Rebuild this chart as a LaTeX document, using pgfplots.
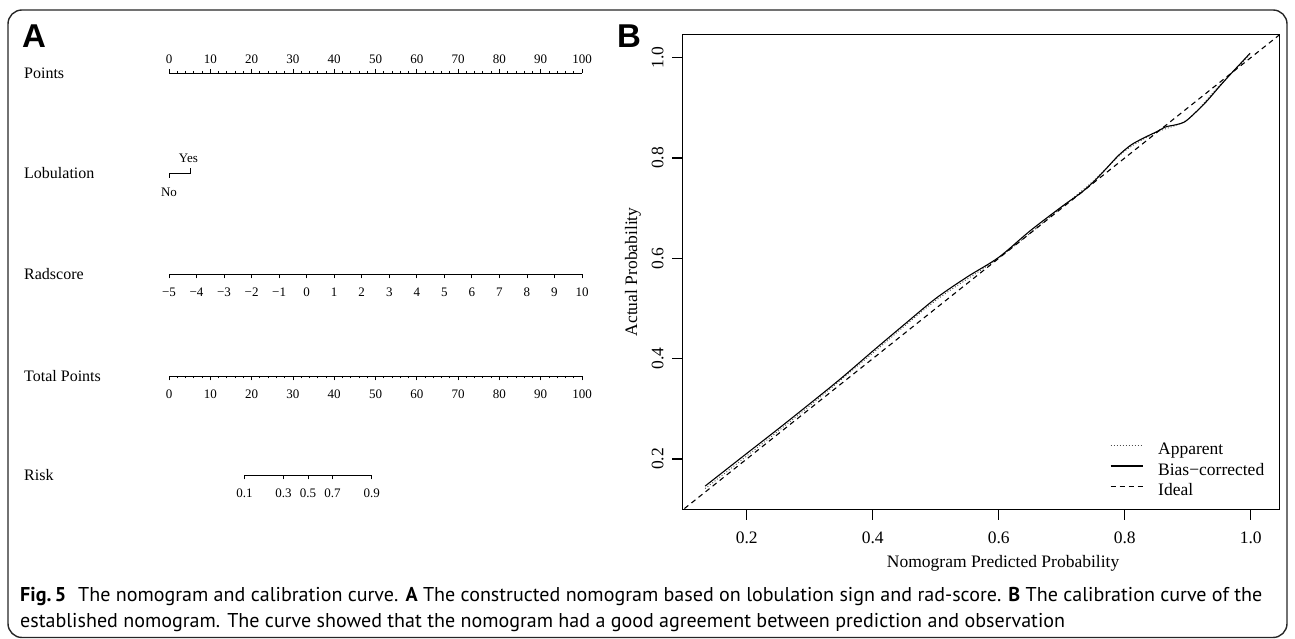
\documentclass[border=0pt]{standalone}
\usepackage{fontspec}
\setmainfont{Liberation Serif}
\newfontfamily\headfont{Liberation Sans}
\newfontfamily\capfont{PT Sans}
\usepackage{graphicx}
\usepackage{pgfplots}
\pgfplotsset{compat=1.18}

\newsavebox\capone
\newsavebox\captwo
\newlength\capw

\pgfplotsset{
  nomorow/.style={
    scale only axis, width=413pt, height=1pt, ymin=0, ymax=1,
    axis y line=none, ytick=\empty, clip=false,
    xmin=0, xmax=100,
    tick align=outside, major tick length=4.5pt, minor tick length=2.3pt,
    every tick/.style={black, line width=0.8pt},
    axis line style={black, line width=0.9pt},
    xticklabel style={font=\fontsize{13}{14}\selectfont, inner sep=0pt},
    /pgf/number format/assume math mode=true,
  },
}

\begin{document}
\sbox\capone{\capfont\fontsize{20}{24}\selectfont\textbf{Fig.\,5}\hspace{0.6em}The nomogram and calibration curve. \textbf{A} The constructed nomogram based on lobulation sign and rad-score. \textbf{B} The calibration curve of the}%
\sbox\captwo{\capfont\fontsize{20}{24}\selectfont established nomogram. The curve showed that the nomogram had a good agreement between prediction and observation}%
\setlength\capw{\wd\capone}%
\pgfmathsetmacro\capsx{1242pt/\capw}%
\begin{tikzpicture}[x=1pt,y=1pt]
\path[use as bounding box] (0,0) rectangle (1295,639);
\draw[line width=1.4pt, rounded corners=14pt, black!85] (8,1.5) rectangle (1287,629);

% panel letters
\node[anchor=north west, inner sep=0pt, font=\headfont\bfseries\fontsize{33}{35}\selectfont] at (22,614) {A};
\node[anchor=north west, inner sep=0pt, font=\headfont\bfseries\fontsize{33}{35}\selectfont] at (617,614) {B};

% row labels
\begin{scope}[every node/.style={anchor=west, inner sep=0pt, font=\fontsize{16}{19}\selectfont}]
\node at (24,565.7) {Points};
\node at (24,466) {Lobulation};
\node at (24,365) {Radscore};
\node at (24,263) {Total Points};
\node at (24,164) {Risk};
\end{scope}

% Points
\begin{axis}[nomorow, at={(169pt,565.7pt)}, anchor=north west,
  axis x line*=top, xtick={0,10,...,100}, minor x tick num=4,
  xticklabel style={anchor=center, yshift=10pt}]
\end{axis}

% Lobulation
\begin{axis}[scale only axis, width=413pt, height=20pt, hide axis, clip=false,
  xmin=0, xmax=100, ymin=-10, ymax=10, at={(169pt,456pt)}, anchor=south west]
\addplot[black, line width=0.9pt] coordinates {(0,-5) (0,0) (5.3,0) (5.3,4.5)};
\node[font=\fontsize{13}{14}\selectfont] at (axis cs:4.7,15) {Yes};
\node[font=\fontsize{13}{14}\selectfont] at (axis cs:0,-19) {No};
\end{axis}

% Radscore
\begin{axis}[nomorow, at={(169pt,365pt)}, anchor=south west,
  axis x line*=bottom, xmin=-5, xmax=10, xtick={-5,-4,...,10},
  xticklabels={−5,−4,−3,−2,−1,0,1,2,3,4,5,6,7,8,9,10},
  xticklabel style={anchor=center, yshift=-14pt}]
\end{axis}

% Total points
\begin{axis}[nomorow, at={(169pt,263pt)}, anchor=south west,
  axis x line*=bottom, xtick={0,10,...,100}, minor x tick num=4,
  xticklabel style={anchor=center, yshift=-14pt}]
\end{axis}

% Risk
\begin{axis}[nomorow, width=127.2pt, at={(244.6pt,164pt)}, anchor=south west,
  axis x line*=bottom, xmin=18.3, xmax=49.1,
  xtick={18.3,27.7,33.66,39.6,49.1}, xticklabels={0.1,0.3,0.5,0.7,0.9},
  xticklabel style={anchor=center, yshift=-14pt}]
\end{axis}

% Panel B
\begin{axis}[
  scale only axis, width=596.6pt, height=474.8pt,
  at={(682.7pt,129.7pt)}, anchor=south west,
  xmin=0.0984, xmax=1.0454, ymin=0.0997, ymax=1.0463,
  axis line style={black, line width=1.1pt},
  tick align=outside, major tick length=10.5pt, tick pos=left,
  every tick/.style={black, line width=1.1pt},
  xtick={0.2,0.4,0.6,0.8,1.0}, xticklabels={0.2,0.4,0.6,0.8,1.0},
  ytick={0.2,0.4,0.6,0.8,1.0}, yticklabels={0.2,0.4,0.6,0.8,1.0},
  ticklabel style={font=\fontsize{17.5}{20}\selectfont},
  xticklabel shift=9pt, yticklabel shift=5pt,
  yticklabel style={rotate=90, anchor=south},
  xlabel={Nomogram Predicted Probability}, ylabel={Actual Probability},
  every axis x label/.style={at={(rel axis cs:0.537,-0.1131)}, anchor=center, font=\fontsize{17.5}{20}\selectfont},
  every axis y label/.style={at={(rel axis cs:-0.0833,0.5)}, anchor=center, rotate=90, font=\fontsize{17.5}{20}\selectfont},
  legend cell align=left,
  legend style={at={(rel axis cs:0.716,0.1422)}, anchor=north west, draw=none, fill=none,
    inner sep=0pt, font=\fontsize{17.5}{20}\selectfont, row sep=3.5pt,
    nodes={inner sep=0pt, text height=13pt, text depth=4pt}},
  legend image code/.code={\draw[#1] (0pt,5pt) -- (32pt,5pt); \path (47pt,0pt);},
]
\addplot[black!70, line width=0.9pt, dash pattern=on 1pt off 2pt, smooth] table {
x y
0.134 0.141
0.2 0.206
0.3 0.306
0.4 0.411
0.5 0.516
0.6 0.601
0.7 0.702
0.75 0.754
0.8 0.814
0.85 0.851
0.9 0.877
0.95 0.944
0.999 1.006
};
\addlegendentry{Apparent}
\addplot[black, line width=1.1pt, smooth] table {
x y
0.134 0.146
0.2 0.211
0.25 0.260
0.3 0.310
0.35 0.361
0.4 0.415
0.45 0.468
0.5 0.520
0.55 0.563
0.6 0.602
0.65 0.655
0.7 0.703
0.73 0.730
0.75 0.752
0.77 0.778
0.79 0.805
0.81 0.826
0.83 0.840
0.85 0.852
0.865 0.862
0.88 0.866
0.895 0.872
0.91 0.888
0.93 0.913
0.95 0.942
0.97 0.970
0.985 0.990
0.999 1.009
};
\addlegendentry{Bias−corrected}
\addplot[black, line width=1.1pt, dash pattern=on 5pt off 4pt] coordinates {(0.09,0.09) (1.06,1.06)};
\addlegendentry{Ideal}
\end{axis}

% caption
\node[anchor=west, inner sep=0pt] at (20,42) {\scalebox{\capsx}[1]{\usebox\capone}};
\node[anchor=west, inner sep=0pt] at (20,16) {\scalebox{\capsx}[1]{\usebox\captwo}};
\end{tikzpicture}
\end{document}
